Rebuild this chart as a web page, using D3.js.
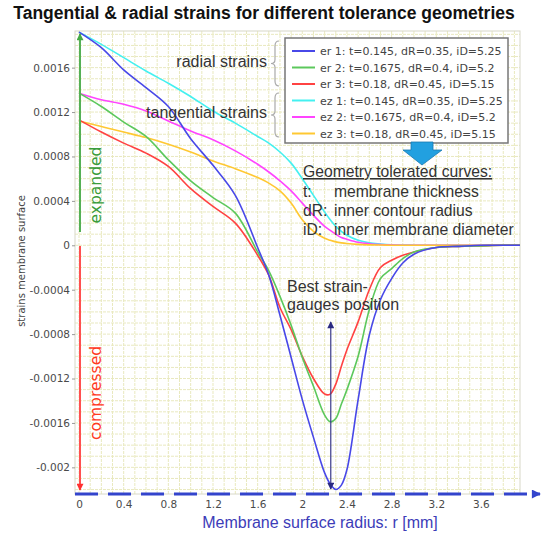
<!DOCTYPE html>
<html>
<head>
<meta charset="utf-8">
<script src="https://cdn.jsdelivr.net/npm/d3@7"></script>
<style>
  body { margin: 0; background: #fff; }
  svg { display: block; }
</style>
</head>
<body>
<svg id="chart" width="541" height="533"></svg>
<script>
var width = 541, height = 533

// radius samples [mm]
var radius = [0, 0.2, 0.4, 0.6, 0.8, 1.0, 1.2, 1.4, 1.6, 1.7, 1.8, 1.9, 2.0, 2.1, 2.2, 2.25, 2.3, 2.35, 2.4, 2.5, 2.6, 2.7, 2.8, 2.9, 3.0, 3.2, 3.4, 3.6, 3.8, 3.95]

// strains, units of 1e-4
var er1 = [19.2, 17.8, 15.8, 14.2, 12.5, 9.6, 7.2, 4.5, -0.2, -2.7, -6.3, -10.1, -13.9, -17.3, -20.5, -21.5, -22.0, -21.6, -20.2, -13.9, -8.1, -4.9, -3.0, -1.6, -0.8, -0.2, -0.1, 0, 0, 0]
var er2 = [13.7, 12.5, 11.1, 9.8, 7.7, 5.8, 4.3, 2.9, -0.6, -2.3, -4.6, -7.2, -10.1, -12.7, -15.3, -15.9, -15.6, -14.3, -13.0, -10.0, -5.8, -3.0, -2.1, -1.2, -0.6, -0.2, -0.1, -0.05, 0, 0]
var er3 = [11.3, 10.2, 9.2, 8.3, 7.1, 5.1, 3.5, 2.0, -0.9, -2.7, -5.6, -7.6, -10.0, -12.0, -13.4, -13.4, -12.5, -10.9, -9.4, -6.9, -4.0, -2.0, -1.35, -0.9, -0.6, -0.2, -0.1, -0.05, 0, 0]
var ez1 = [19.2, 18.1, 16.9, 15.7, 14.6, 13.4, 12.1, 11.0, 9.8, 9.2, 8.4, 7.4, 6.0, 4.5, 3.0, 2.3, 1.7, 1.26, 0.9, 0.45, 0.22, 0.12, 0.05, 0.02, 0.01, 0, 0, 0, 0, 0]
var ez2 = [13.7, 13.1, 12.7, 12.1, 11.2, 10.3, 9.5, 8.5, 7.3, 6.6, 5.8, 4.9, 3.8, 2.7, 1.7, 1.35, 1.0, 0.7, 0.54, 0.27, 0.14, 0.07, 0.03, 0.01, 0, 0, 0, 0, 0, 0]
var ez3 = [11.2, 10.7, 10.2, 9.7, 9.1, 8.4, 7.6, 6.9, 6.1, 5.6, 4.9, 3.8, 2.3, 1.26, 0.63, 0.45, 0.31, 0.22, 0.16, 0.08, 0.04, 0.02, 0.01, 0, 0, 0, 0, 0, 0, 0]

var seriesNames = ["er 1: t=0.145, dR=0.35, iD=5.25", "er 2: t=0.1675, dR=0.4, iD=5.2", "er 3: t=0.18, dR=0.45, iD=5.15",
                   "ez 1: t=0.145, dR=0.35, iD=5.25", "ez 2: t=0.1675, dR=0.4, iD=5.2", "ez 3: t=0.18, dR=0.45, iD=5.15"]
var seriesValues = [er1, er2, er3, ez1, ez2, ez3]
var colors = ["#4848e8", "#5cc85c", "#ff4242", "#44f0f0", "#ff44ff", "#ffc832"]

var xTicks = [0, 0.4, 0.8, 1.2, 1.6, 2, 2.4, 2.8, 3.2, 3.6]
var xTickLabels = ["0", "0.4", "0.8", "1.2", "1.6", "2", "2.4", "2.8", "3.2", "3.6"]
var yTicks = [-0.002, -0.0016, -0.0012, -0.0008, -0.0004, 0, 0.0004, 0.0008, 0.0012, 0.0016]
var yTickLabels = ["-0.002", "-0.0016", "-0.0012", "-0.0008", "-0.0004", "0", "0.0004", "0.0008", "0.0012", "0.0016"]

var x = d3.scaleLinear().domain([-0.036, 3.95]).range([75, 520])
var y = d3.scaleLinear().domain([-0.00224, 0.00193]).range([494, 31])

var svg = d3.select('#chart')

var defs = svg.append('defs')
function marker(id, color, w, h) {
  defs.append('marker').attr('id', id)
    .attr('viewBox', '0 0 10 10').attr('refX', 9).attr('refY', 5)
    .attr('markerWidth', w).attr('markerHeight', h)
    .attr('markerUnits', 'userSpaceOnUse')
    .attr('orient', 'auto-start-reverse')
    .append('path').attr('d', 'M0,0 L10,5 L0,10 z').attr('fill', color)
}
marker('arrGreen', '#44aa44', 8, 7)
marker('arrRed', '#ff3030', 8, 7)
marker('arrNavy', '#2a2a80', 8, 7)
marker('arrBlue', '#3344cc', 10, 9)

svg.append('text')
  .attr('x', 264).attr('y', 19)
  .attr('text-anchor', 'middle')
  .style('font', 'bold 17.5px "Liberation Sans", Arial, sans-serif')
  .style('fill', '#111')
  .text('Tangential & radial strains for different tolerance geometries')

// grid
var grid = svg.append('g')
grid.selectAll('.gx').data(d3.range(0, 3.95, 0.1)).enter().append('line')
  .attr('x1', function(d) { return x(d) }).attr('x2', function(d) { return x(d) })
  .attr('y1', y.range()[1]).attr('y2', y.range()[0])
  .attr('stroke', '#e9e9bf').attr('stroke-width', 1).attr('stroke-dasharray', '3,1')
grid.selectAll('.gy').data(d3.range(-22, 20, 1)).enter().append('line')
  .attr('y1', function(d) { return y(d * 1e-4) }).attr('y2', function(d) { return y(d * 1e-4) })
  .attr('x1', x.range()[0]).attr('x2', x.range()[1])
  .attr('stroke', '#e9e9bf').attr('stroke-width', 1).attr('stroke-dasharray', '3,1')
svg.append('rect')
  .attr('x', 75).attr('y', 31).attr('width', 445).attr('height', 463)
  .attr('fill', 'none').attr('stroke', '#d8d8c8')

// axes
var yAxis = svg.append('g').attr('transform', 'translate(75,0)')
  .call(d3.axisLeft(y).tickValues(yTicks).tickSize(3)
    .tickFormat(function(d, i) { return yTickLabels[i] }))
yAxis.select('.domain').remove()
yAxis.selectAll('line').attr('stroke', '#999')
yAxis.selectAll('text').style('font', '10.5px "DejaVu Sans", sans-serif').style('fill', '#4a4a4a').attr('x', -5)

var xAxis = svg.append('g').attr('transform', 'translate(0,496)')
  .call(d3.axisBottom(x).tickValues(xTicks).tickSize(0)
    .tickFormat(function(d, i) { return xTickLabels[i] }))
xAxis.select('.domain').remove()
xAxis.selectAll('text').style('font', '10.5px "DejaVu Sans", sans-serif').style('fill', '#4a4a4a').attr('dy', '0.9em')

svg.append('text')
  .attr('transform', 'translate(25,261) rotate(-90)')
  .attr('text-anchor', 'middle')
  .style('font', '10px "DejaVu Sans", sans-serif').style('fill', '#444')
  .text('strains membrane surface')

svg.append('text')
  .attr('x', 320).attr('y', 528)
  .attr('text-anchor', 'middle')
  .style('font', '16px "Liberation Sans", Arial, sans-serif').style('fill', '#3c3cb8')
  .text('Membrane surface radius: r [mm]')

// curves
var line = d3.line()
  .x(function(d) { return x(d[0]) })
  .y(function(d) { return y(d[1] * 1e-4) })
  .curve(d3.curveCatmullRom.alpha(0.5))

var order = [3, 4, 5, 2, 1, 0]
order.forEach(function(i) {
  svg.append('path')
    .datum(radius.map(function(r, k) { return [r, seriesValues[i][k]] }))
    .attr('d', line)
    .attr('fill', 'none')
    .attr('stroke', colors[i])
    .attr('stroke-width', 1.6)
})

// dashed x axis line
svg.append('line')
  .attr('x1', 75).attr('x2', 540).attr('y1', 494).attr('y2', 494)
  .attr('stroke', '#3344cc').attr('stroke-width', 3).attr('stroke-dasharray', '23,10')
  .attr('marker-end', 'url(#arrBlue)')

// expanded / compressed arrows
svg.append('line').attr('x1', 80).attr('x2', 80).attr('y1', 232).attr('y2', 34)
  .attr('stroke', '#55b055').attr('stroke-width', 2).attr('marker-end', 'url(#arrGreen)')
svg.append('line').attr('x1', 80).attr('x2', 80).attr('y1', 246).attr('y2', 490)
  .attr('stroke', '#ff5050').attr('stroke-width', 2).attr('marker-end', 'url(#arrRed)')
svg.append('text').attr('transform', 'translate(101,185) rotate(-90)')
  .attr('text-anchor', 'middle')
  .style('font', '15.5px "DejaVu Sans", sans-serif').style('fill', '#3a9c3a')
  .text('expanded')
svg.append('text').attr('transform', 'translate(101,393) rotate(-90)')
  .attr('text-anchor', 'middle')
  .style('font', '15.5px "DejaVu Sans", sans-serif').style('fill', '#ff3a1e')
  .text('compressed')

// legend
var legend = svg.append('g')
legend.append('rect').attr('x', 285).attr('y', 38).attr('width', 223).attr('height', 105)
  .attr('fill', '#fff').attr('stroke', '#777').attr('stroke-width', 1.5)
seriesNames.forEach(function(name, i) {
  var ly = 51 + i * 16.5
  legend.append('line').attr('x1', 292).attr('x2', 315).attr('y1', ly).attr('y2', ly)
    .attr('stroke', colors[i]).attr('stroke-width', 2)
  legend.append('text').attr('x', 320).attr('y', ly + 4)
    .style('font', '11px "DejaVu Sans", sans-serif').style('fill', '#444')
    .text(name)
})

// braces
function brace(bx, y1, y2) {
  var ym = (y1 + y2) / 2
  return 'M' + (bx + 4) + ',' + y1 + ' Q' + bx + ',' + y1 + ' ' + bx + ',' + (y1 + 5) +
    ' L' + bx + ',' + (ym - 4) + ' Q' + bx + ',' + ym + ' ' + (bx - 4) + ',' + ym +
    ' Q' + bx + ',' + ym + ' ' + bx + ',' + (ym + 4) +
    ' L' + bx + ',' + (y2 - 5) + ' Q' + bx + ',' + y2 + ' ' + (bx + 4) + ',' + y2
}
svg.append('path').attr('d', brace(275, 41, 86)).attr('fill', 'none').attr('stroke', '#aaa').attr('stroke-width', 1.2)
svg.append('path').attr('d', brace(275, 93, 137)).attr('fill', 'none').attr('stroke', '#aaa').attr('stroke-width', 1.2)

var annFont = '16px "Liberation Sans", Arial, sans-serif'
svg.append('text').attr('x', 267).attr('y', 67).attr('text-anchor', 'end')
  .style('font', annFont).style('fill', '#333').text('radial strains')
svg.append('text').attr('x', 267).attr('y', 118).attr('text-anchor', 'end')
  .style('font', annFont).style('fill', '#333').text('tangential strains')

// block arrow
svg.append('path')
  .attr('d', 'M411,142 L433,142 L433,150 L442,150 L422,165 L403,150 L411,150 Z')
  .attr('fill', '#22a0e0').attr('stroke', '#1a7ab0').attr('stroke-width', 0.8)

var geoFont = '15.7px "Liberation Sans", Arial, sans-serif'
svg.append('text').attr('x', 303).attr('y', 177)
  .style('font', geoFont).style('fill', '#333').style('text-decoration', 'underline')
  .text('Geometry tolerated curves:')
var geoRows = [["t:", "membrane thickness", 197], ["dR:", "inner contour radius", 216], ["iD:", "inner membrane diameter", 235]]
geoRows.forEach(function(r) {
  svg.append('text').attr('x', 303).attr('y', r[2]).style('font', geoFont).style('fill', '#333').text(r[0])
  svg.append('text').attr('x', 334).attr('y', r[2]).style('font', geoFont).style('fill', '#333').text(r[1])
})

// best position
svg.append('text').attr('x', 287).attr('y', 292)
  .style('font', '16px "Liberation Sans", Arial, sans-serif').style('fill', '#333').text('Best strain-')
svg.append('text').attr('x', 287).attr('y', 310)
  .style('font', '16px "Liberation Sans", Arial, sans-serif').style('fill', '#333').text('gauges position')
svg.append('line').attr('x1', x(2.255)).attr('x2', x(2.255)).attr('y1', 322).attr('y2', 489)
  .attr('stroke', '#3a3a8a').attr('stroke-width', 1.2)
  .attr('marker-start', 'url(#arrNavy)').attr('marker-end', 'url(#arrNavy)')
</script>
</body>
</html>
